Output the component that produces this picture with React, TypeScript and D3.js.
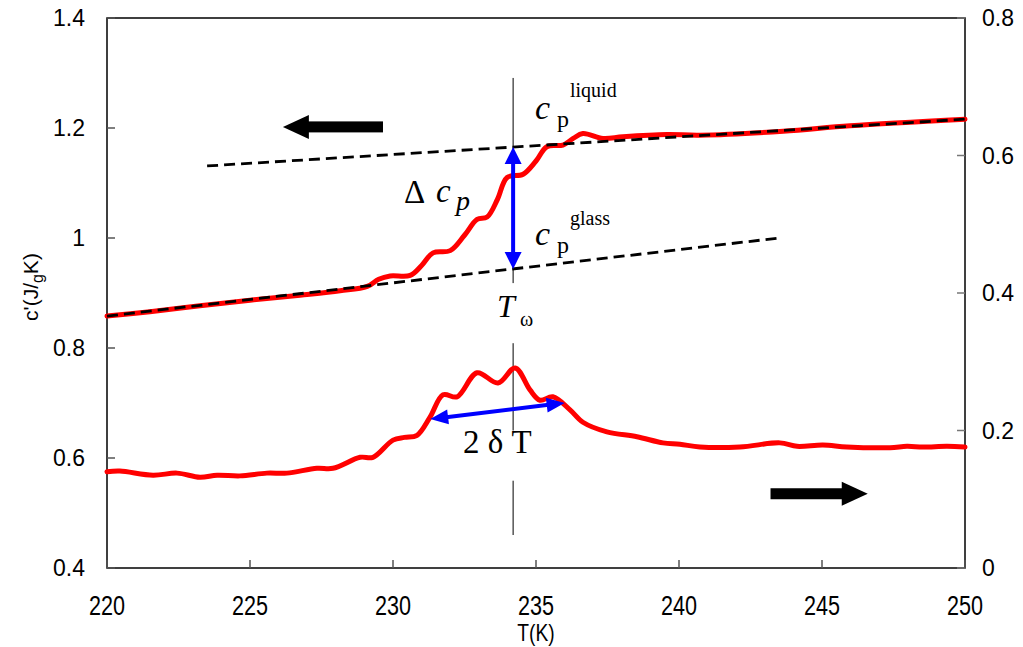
import React from "react";
import * as d3 from "d3";

// ---- data ----
const upperT = [220, 221.5, 223.25, 225, 226.75, 228.15, 229.1, 229.5, 229.9, 230.6, 231.0, 231.4, 232.0, 232.5, 232.94, 233.29, 233.65, 233.99, 234.55, 235.0, 235.38, 235.94, 236.3, 236.64, 237.34, 238.04, 239.58, 240.73, 243.64, 245.98, 250];
const upperC = [0.858, 0.866, 0.877, 0.887, 0.896, 0.904, 0.912, 0.925, 0.931, 0.932, 0.950, 0.973, 0.977, 1.005, 1.034, 1.038, 1.070, 1.110, 1.116, 1.140, 1.166, 1.169, 1.181, 1.190, 1.181, 1.184, 1.188, 1.187, 1.194, 1.204, 1.216];

const lowerT = [220, 220.45, 221.61, 222.45, 223.25, 223.85, 224.65, 225.59, 226.29, 227.34, 227.9, 228.85, 229.3, 230.0, 230.4, 230.84, 231.29, 231.75, 232.24, 232.94, 233.67, 234.27, 234.79, 235.14, 235.59, 236.19, 236.64, 237.48, 238.53, 239.44, 240.03, 240.73, 242.13, 243.53, 244.13, 245.03, 245.87, 247.38, 247.97, 248.53, 249.37, 250];
const lowerC = [0.140, 0.141, 0.135, 0.138, 0.132, 0.135, 0.134, 0.138, 0.138, 0.145, 0.145, 0.161, 0.161, 0.186, 0.190, 0.193, 0.219, 0.252, 0.249, 0.284, 0.269, 0.291, 0.259, 0.244, 0.249, 0.230, 0.212, 0.198, 0.191, 0.182, 0.180, 0.176, 0.176, 0.182, 0.177, 0.179, 0.176, 0.175, 0.177, 0.176, 0.177, 0.176];

const glassT = [220, 243.5];
const glassC = [0.858, 1.0];
const liquidT = [223.5, 250];
const liquidC = [1.131, 1.216];

const xTicks = [220, 225, 230, 235, 240, 245, 250];
const yLeftTicks = [0.4, 0.6, 0.8, 1.0, 1.2, 1.4];
const yRightTicks = [0, 0.2, 0.4, 0.6, 0.8];

const Tomega = 234.2;
const deltaT = [231.3, 236.0];
const deltaV = [0.2167, 0.240];

const W = 1023, H = 647;

export default function App() {
  const x = d3.scaleLinear().domain([220, 250]).range([107, 965]);
  const yL = d3.scaleLinear().domain([0.4, 1.4]).range([568, 18]);
  const yR = d3.scaleLinear().domain([0, 0.8]).range([568, 18]);

  const upperLine = d3.line<number>().x((_, i) => x(upperT[i])).y((d) => yL(d)).curve(d3.curveCatmullRom.alpha(0.5));
  const lowerLine = d3.line<number>().x((_, i) => x(lowerT[i])).y((d) => yR(d)).curve(d3.curveCatmullRom.alpha(0.5));

  const liqAt = (t: number) => liquidC[0] + (liquidC[1] - liquidC[0]) * (t - liquidT[0]) / (liquidT[1] - liquidT[0]);
  const glaAt = (t: number) => glassC[0] + (glassC[1] - glassC[0]) * (t - glassT[0]) / (glassT[1] - glassT[0]);

  const x0 = x.range()[0], x1 = x.range()[1];
  const yTop = yL.range()[1], yBot = yL.range()[0];

  const head = (tx: number, ty: number, fx: number, fy: number, len: number, half: number) => {
    const dx = tx - fx, dy = ty - fy;
    const L = Math.hypot(dx, dy);
    const ux = dx / L, uy = dy / L;
    const bx = tx - ux * len, by = ty - uy * len;
    return `${tx},${ty} ${bx - uy * half},${by + ux * half} ${bx + uy * half},${by - ux * half}`;
  };

  const xT = x(Tomega);
  const vTop = yL(liqAt(Tomega));
  const vBot = yL(glaAt(Tomega));

  const hx1 = x(deltaT[0]), hy1 = yR(deltaV[0]);
  const hx2 = x(deltaT[1]), hy2 = yR(deltaV[1]);

  const la = { tip: x(226.15), tail: x(229.65), y: yL(1.202) };
  const ra = { tip: x(246.6), tail: x(243.2), y: yR(0.108) };

  const serif = "'Liberation Serif', 'Times New Roman', serif";
  const sans = "'Liberation Sans', Arial, sans-serif";

  return (
    <svg width={W} height={H} style={{ position: "absolute", left: 0, top: 0, background: "#fff" }}>
      <rect x={0} y={0} width={W} height={H} fill="#fff" />
      <rect x={x0} y={yTop} width={x1 - x0} height={yBot - yTop} fill="none" stroke="#000" strokeWidth={1.5} />
      {yLeftTicks.map((t) => (
        <g key={"yl" + t}>
          <line x1={x0} x2={x0 + 8} y1={yL(t)} y2={yL(t)} stroke="#555" strokeWidth={1.5} />
          <text x={85} y={yL(t) + 8} textAnchor="end" fontFamily={sans} fontSize={23} fill="#000">{t === 1 ? "1" : d3.format(".1f")(t)}</text>
        </g>
      ))}
      {yRightTicks.map((t) => (
        <g key={"yr" + t}>
          <line x1={x1 - 8} x2={x1} y1={yR(t)} y2={yR(t)} stroke="#777" strokeWidth={1.5} />
          <text x={982} y={yR(t) + 8} textAnchor="start" fontFamily={sans} fontSize={23} fill="#000">{t === 0 ? "0" : d3.format(".1f")(t)}</text>
        </g>
      ))}
      {xTicks.map((t) => (
        <g key={"x" + t}>
          <line x1={x(t)} x2={x(t)} y1={yBot} y2={yBot - 8} stroke="#555" strokeWidth={1.5} />
          <text transform={`translate(${x(t)},615) scale(0.8,1)`} textAnchor="middle" fontFamily={sans} fontSize={27} fill="#000">{t}</text>
        </g>
      ))}
      <text transform={`translate(536,641) scale(0.8,1)`} textAnchor="middle" fontFamily={sans} fontSize={24} fill="#000">T(K)</text>
      <text transform={`translate(38,287) rotate(-90)`} textAnchor="middle" fontFamily={sans} fontSize={21} fill="#000">
        c'(J/<tspan fontSize={16} dy={5}>g</tspan><tspan dy={-5}>K)</tspan>
      </text>

      {/* vertical T_omega lines */}
      <line x1={xT} x2={xT} y1={yL(1.291)} y2={yL(0.918)} stroke="#000" strokeWidth={1} />
      <line x1={xT} x2={xT} y1={yR(0.327)} y2={yR(0.2)} stroke="#000" strokeWidth={1} />
      <line x1={xT} x2={xT} y1={yR(0.127)} y2={yR(0.048)} stroke="#000" strokeWidth={1} />

      {/* curves */}
      <path d={upperLine(upperC) || ""} fill="none" stroke="#ff0000" strokeWidth={5} strokeLinejoin="round" strokeLinecap="round" />
      <path d={lowerLine(lowerC) || ""} fill="none" stroke="#ff0000" strokeWidth={5} strokeLinejoin="round" strokeLinecap="round" />

      {/* dashed reference lines (over curves) */}
      <line x1={x(glassT[0])} y1={yL(glassC[0])} x2={x(glassT[1])} y2={yL(glassC[1])} stroke="#000" strokeWidth={2.8} strokeDasharray="11,6" />
      <line x1={x(liquidT[0])} y1={yL(liquidC[0])} x2={x(liquidT[1])} y2={yL(liquidC[1])} stroke="#000" strokeWidth={2.8} strokeDasharray="11,6" />

      {/* blue vertical double arrow */}
      <line x1={xT} x2={xT} y1={vTop + 14} y2={vBot - 14} stroke="#0000ff" strokeWidth={4} />
      <polygon points={head(xT, vTop, xT, vBot, 17, 8.5)} fill="#0000ff" />
      <polygon points={head(xT, vBot, xT, vTop, 17, 8.5)} fill="#0000ff" />

      {/* blue horizontal double arrow */}
      <line x1={hx1 + 14} y1={hy1 - 1.5} x2={hx2 - 14} y2={hy2 + 1.5} stroke="#0000ff" strokeWidth={4} />
      <polygon points={head(hx1, hy1, hx2, hy2, 18, 7.5)} fill="#0000ff" />
      <polygon points={head(hx2, hy2, hx1, hy1, 18, 7.5)} fill="#0000ff" />

      {/* black direction arrows */}
      <rect x={la.tip + 24} y={la.y - 5.5} width={la.tail - la.tip - 24} height={11} fill="#000" />
      <polygon points={`${la.tip},${la.y} ${la.tip + 26},${la.y - 12} ${la.tip + 26},${la.y + 12}`} fill="#000" />
      <rect x={ra.tail} y={ra.y - 5.5} width={ra.tip - ra.tail - 24} height={11} fill="#000" />
      <polygon points={`${ra.tip},${ra.y} ${ra.tip - 26},${ra.y - 12} ${ra.tip - 26},${ra.y + 12}`} fill="#000" />

      {/* annotations */}
      <text x={404} y={203} fontFamily={serif} fontSize={33} fill="#000">Δ</text>
      <text x={436} y={202} fontFamily={serif} fontSize={33} fontStyle="italic" fill="#000">c</text>
      <text x={456} y={210} fontFamily={serif} fontSize={28} fontStyle="italic" fill="#000">p</text>

      <text x={535} y={119} fontFamily={serif} fontSize={34} fontStyle="italic" fill="#000">c</text>
      <text x={557} y={127} fontFamily={serif} fontSize={24} fill="#000">p</text>
      <text x={570} y={97} fontFamily={serif} fontSize={20} fill="#000">liquid</text>

      <text x={535} y={245} fontFamily={serif} fontSize={34} fontStyle="italic" fill="#000">c</text>
      <text x={557} y={253} fontFamily={serif} fontSize={24} fill="#000">p</text>
      <text x={570} y={225} fontFamily={serif} fontSize={20} fill="#000">glass</text>

      <text x={497} y={317} fontFamily={serif} fontSize={32} fontStyle="italic" fill="#000">T</text>
      <text x={520} y={326} fontFamily={serif} fontSize={20} fill="#000">ω</text>

      <text x={463} y={453} fontFamily={serif} fontSize={33} fill="#000">2 δ T</text>
    </svg>
  );
}
